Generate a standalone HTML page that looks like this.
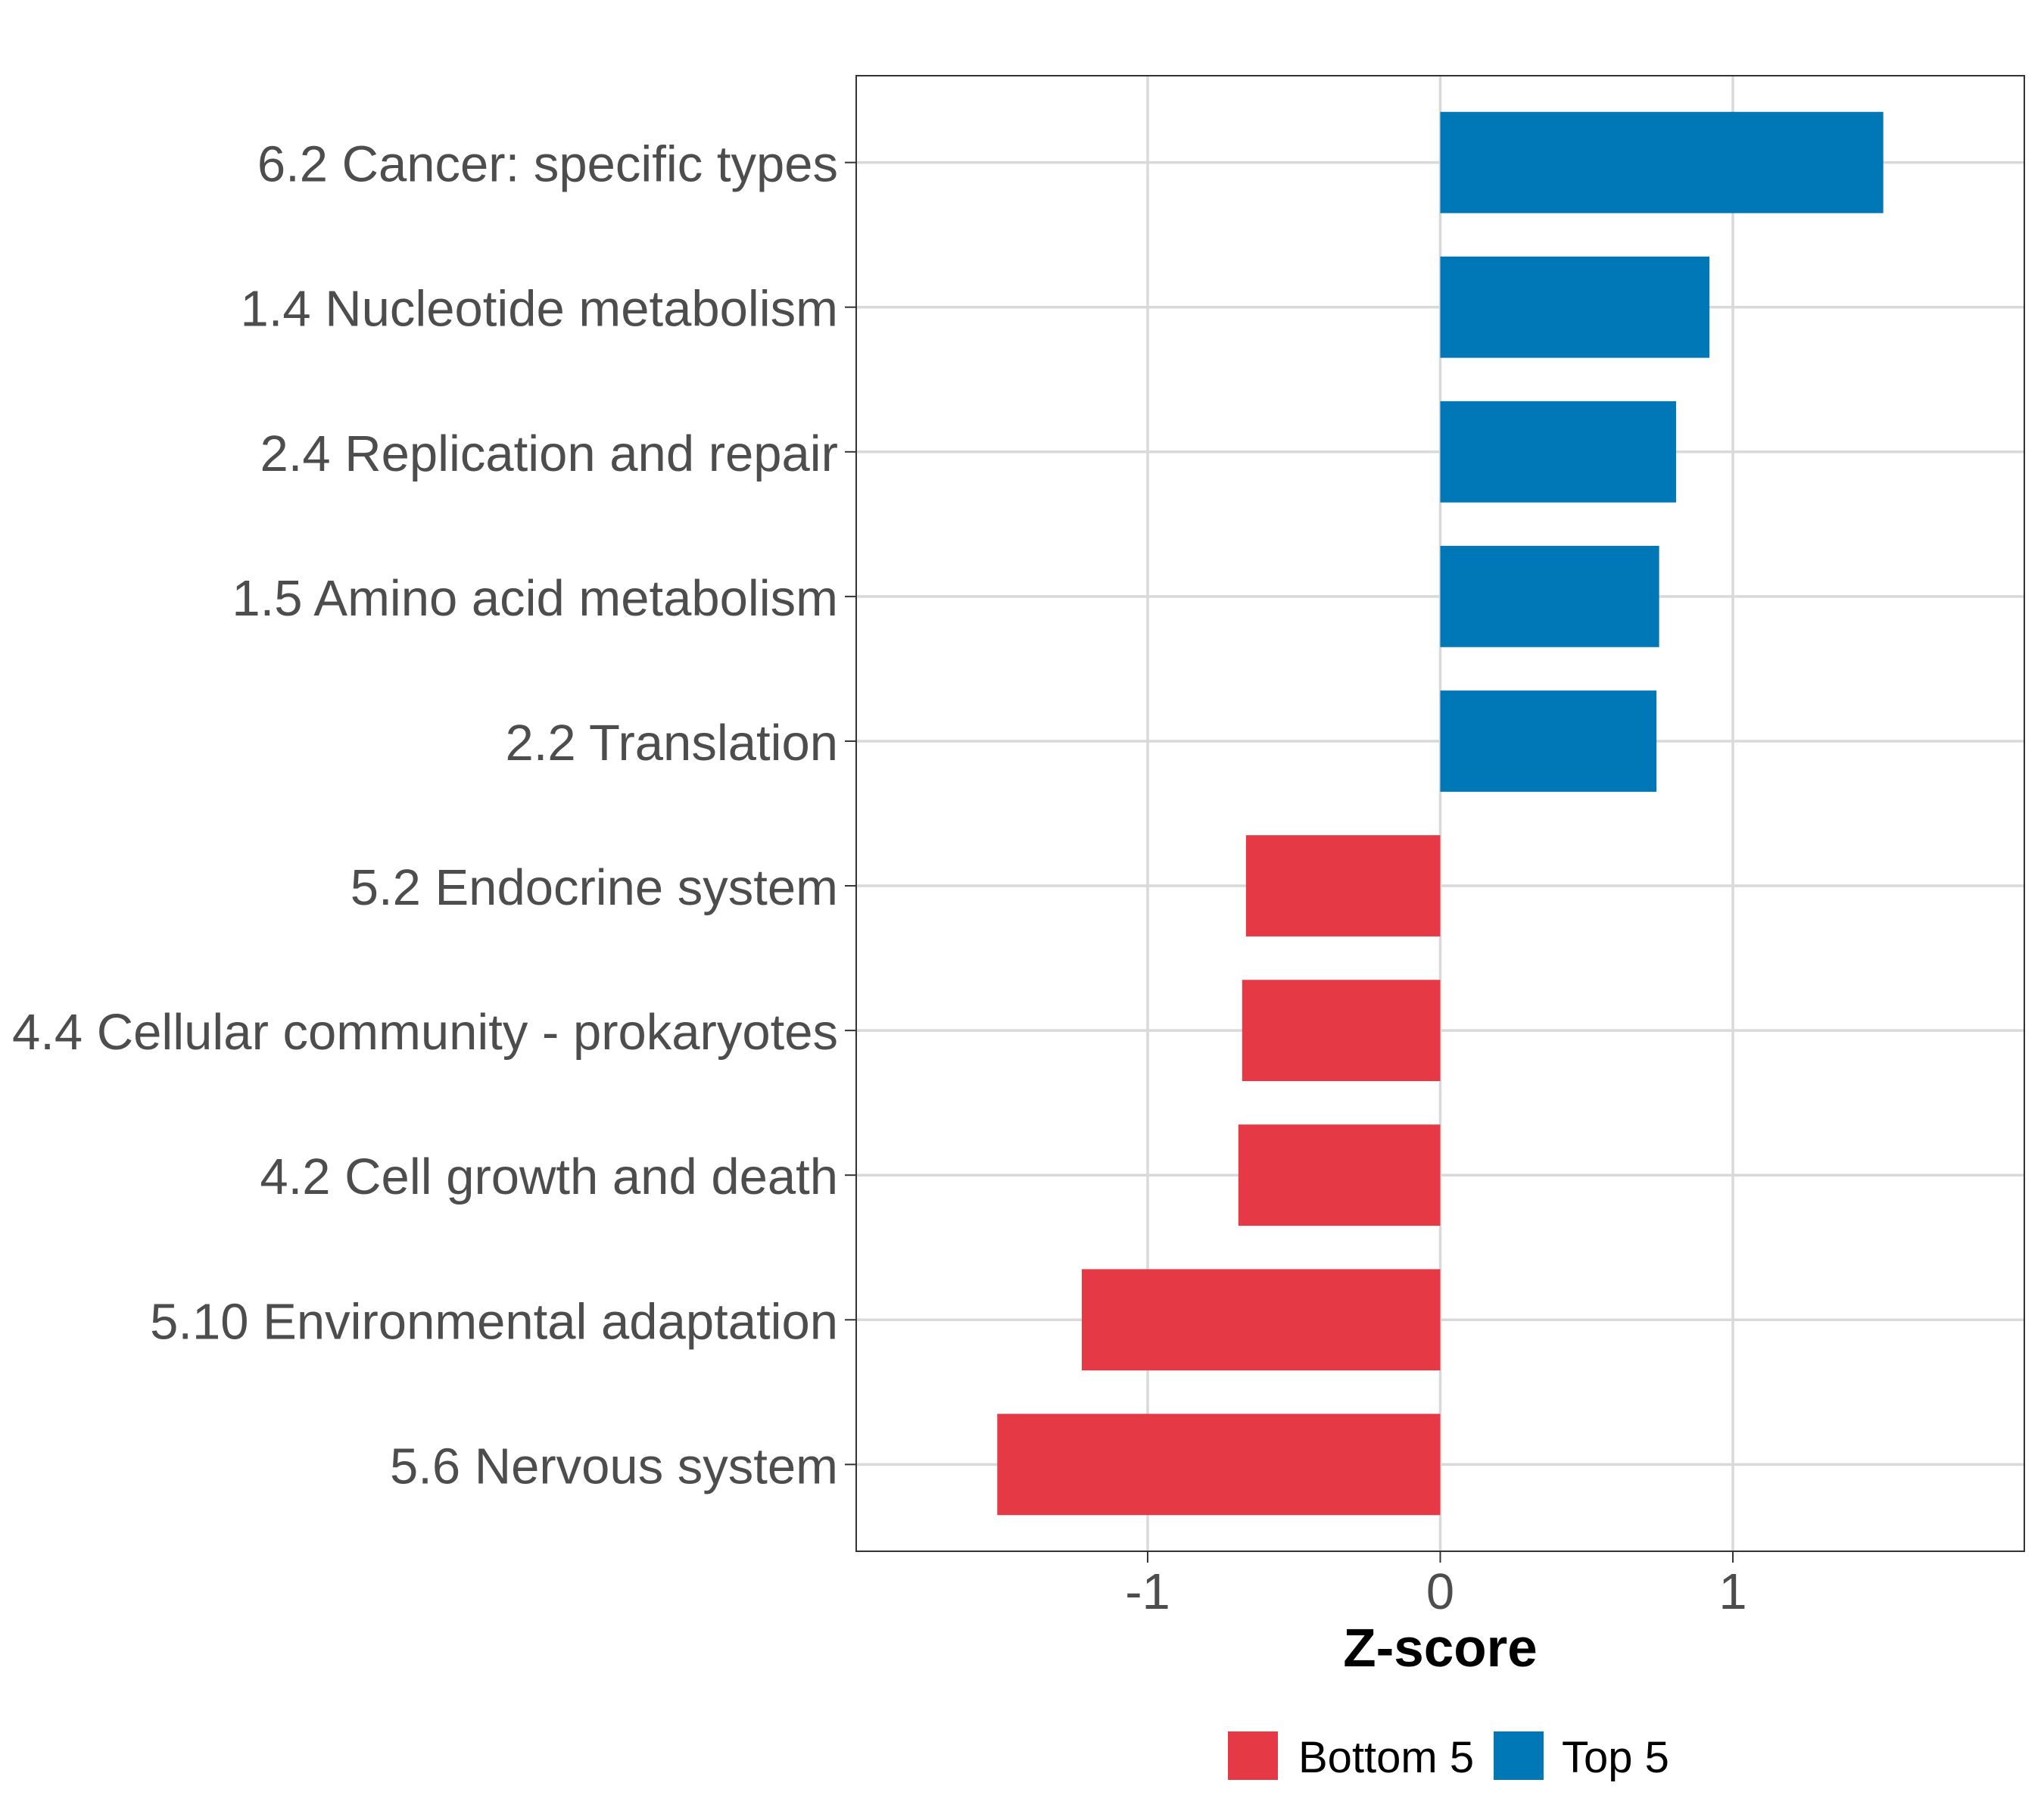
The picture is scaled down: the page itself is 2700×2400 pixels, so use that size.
<!DOCTYPE html>
<html><head><meta charset="utf-8"><style>html,body{margin:0;padding:0;background:#fff}svg{display:block}</style></head>
<body>
<svg id="chart" width="2700" height="2400" viewBox="0 0 2700 2400" xmlns="http://www.w3.org/2000/svg" font-family="Liberation Sans, sans-serif"></svg>
<script>
const categories = ["6.2 Cancer: specific types","1.4 Nucleotide metabolism","2.4 Replication and repair","1.5 Amino acid metabolism","2.2 Translation","5.2 Endocrine system","4.4 Cellular community - prokaryotes","4.2 Cell growth and death","5.10 Environmental adaptation","5.6 Nervous system"];
const zscores = [1.514, 0.92, 0.806, 0.748, 0.739, -0.664, -0.677, -0.69, -1.225, -1.514];
const groups = ["Top 5","Top 5","Top 5","Top 5","Top 5","Bottom 5","Bottom 5","Bottom 5","Bottom 5","Bottom 5"];
const xTicks = [-1, 0, 1];
const xTickLabels = ["-1","0","1"];
const legendLabels = ["Bottom 5","Top 5"];

const svg = document.getElementById('chart');
const NS = 'http://www.w3.org/2000/svg';
const P = {l:1131, r:2674, t:100, b:2049};
const xMin = -1.996, xMax = 1.996;
const colors = {"Top 5":"#0077B6","Bottom 5":"#E63946"};
function xs(v){ return P.l + (v - xMin)/(xMax - xMin)*(P.r-P.l); }
const band = (P.b-P.t)/(categories.length + 0.2);
function ys(i){ return P.t + band*(0.6 + i); }
function mk(tag, attrs, text){
  const e = document.createElementNS(NS, tag);
  for (const k in attrs) e.setAttribute(k, attrs[k]);
  if (text !== undefined) e.textContent = text;
  svg.appendChild(e); return e;
}
let e;
xTicks.forEach((t,i)=>{
  e = mk('line',{x1:xs(t),x2:xs(t),y1:P.t,y2:P.b,stroke:'#d9d9d9','stroke-width':3.5});
  
  
});
categories.forEach((c,i)=>{
  e = mk('line',{x1:P.l,x2:P.r,y1:ys(i),y2:ys(i),stroke:'#d9d9d9','stroke-width':3.5});
  
  
});
const bh = band*0.7;
zscores.forEach((v,i)=>{
  const x0 = xs(Math.min(0,v)), x1 = xs(Math.max(0,v));
  e = mk('rect',{x:x0,y:ys(i)-bh/2,width:x1-x0,height:bh,fill:colors[groups[i]]});
  
  
});
e = mk('rect',{x:P.l,y:P.t,width:P.r-P.l,height:P.b-P.t,fill:'none',stroke:'#333','stroke-width':2});


categories.forEach((c,i)=>{
  e = mk('line',{x1:P.l-15,x2:P.l,y1:ys(i),y2:ys(i),stroke:'#333','stroke-width':2});
  
  
  e = mk('text',{x:P.l-24,y:ys(i)+25,'text-anchor':'end','font-size':67,fill:'#4d4d4d'},c);
  
  
});
xTicks.forEach((t,i)=>{
  e = mk('line',{x1:xs(t),x2:xs(t),y1:P.b,y2:P.b+15,stroke:'#333','stroke-width':2});
  
  
  e = mk('text',{x:xs(t),y:P.b+76,'text-anchor':'middle','font-size':67,fill:'#4d4d4d'},xTickLabels[i]);
  
  
});
e = mk('text',{x:(P.l+P.r)/2,y:2201,'text-anchor':'middle','font-size':71,'font-weight':'bold',fill:'#000'},'Z-score');


const lx = [1622, 1973], tx = [1715, 2063];
legendLabels.forEach((l,i)=>{
  e = mk('rect',{x:lx[i],y:2287,width:66,height:64,fill:colors[l]});
  
  
  e = mk('text',{x:tx[i],y:2341,'font-size':58,fill:'#000'},l);
  
  
});
</script>
</body></html>
